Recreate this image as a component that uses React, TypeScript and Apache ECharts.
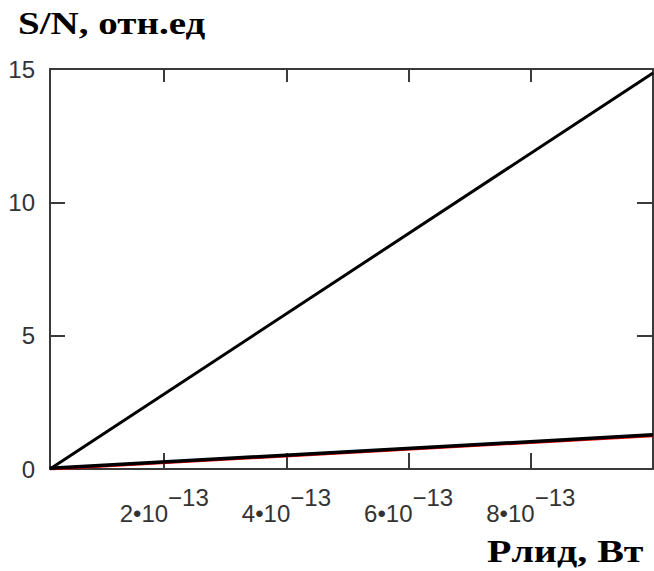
import React, { useEffect, useRef } from "react";
import * as echarts from "echarts";

const xRange = [1.3e-14, 1e-12];
const xValues = [1.3e-14, 1e-12];
const upperLine = [0, 14.85];
const lowerLine = [0.03, 1.28];
const redLine = [0, 1.25];
const xTickValues = [2e-13, 4e-13, 6e-13, 8e-13];
const xTickLabels = ["2•10", "4•10", "6•10", "8•10"];
const xTickExponent = "−13";
const yTicks = [0, 5, 10, 15];
const yTitle = "S/N, отн.ед";
const xTitle = "Рлид, Вт";

export default function App() {
  const ref = useRef<HTMLDivElement>(null);
  useEffect(() => {
    if (!ref.current) return;
    const chart = echarts.init(ref.current, null, { renderer: "svg" });
    const axisColor = "#3a3a3a";
    const labelFont = "'Liberation Sans', Arial, sans-serif";
    const titleFont = "'Liberation Serif', 'Times New Roman', serif";
    const mk = (arr: number[]) => xValues.map((x, i) => [x, arr[i]]);
    chart.setOption({
      animation: false,
      backgroundColor: "#ffffff",
      grid: { left: 50, right: 1, top: 69, bottom: 102, containLabel: false },
      xAxis: [
        {
          type: "value",
          min: xRange[0],
          max: xRange[1],
          position: "bottom",
          splitLine: { show: false },
          axisLine: { show: true, onZero: false, lineStyle: { color: axisColor, width: 2 } },
          axisTick: {
            show: true,
            inside: true,
            length: 16,
            customValues: xTickValues,
            lineStyle: { color: axisColor, width: 2 },
          },
          axisLabel: {
            show: true,
            customValues: xTickValues,
            margin: 16,
            formatter: (v: number) => {
              let idx = 0;
              let best = Infinity;
              xTickValues.forEach((t, i) => {
                const d = Math.abs(t - v);
                if (d < best) { best = d; idx = i; }
              });
              return `{b|${xTickLabels[idx]}}{s|${xTickExponent}}`;
            },
            rich: {
              b: { fontSize: 24, fontFamily: labelFont, color: "#333", verticalAlign: "bottom" },
              s: { fontSize: 24, fontFamily: labelFont, color: "#333", padding: [0, 0, 16, 0] },
            },
          },
        },
        {
          type: "value",
          min: xRange[0],
          max: xRange[1],
          position: "top",
          splitLine: { show: false },
          axisLine: { show: true, onZero: false, lineStyle: { color: axisColor, width: 2 } },
          axisTick: {
            show: true,
            inside: true,
            length: 13,
            customValues: xTickValues,
            lineStyle: { color: axisColor, width: 2 },
          },
          axisLabel: { show: false },
        },
      ],
      yAxis: [
        {
          type: "value",
          min: 0,
          max: 15,
          interval: 5,
          position: "left",
          splitLine: { show: false },
          axisLine: { show: true, onZero: false, lineStyle: { color: axisColor, width: 2 } },
          axisTick: { show: true, inside: true, length: 15, lineStyle: { color: axisColor, width: 2 } },
          axisLabel: {
            show: true,
            margin: 15,
            fontSize: 24,
            fontFamily: labelFont,
            color: "#333",
            formatter: (v: number) => (yTicks.includes(v) ? String(v) : ""),
          },
        },
        {
          type: "value",
          min: 0,
          max: 15,
          interval: 5,
          position: "right",
          splitLine: { show: false },
          axisLine: { show: true, onZero: false, lineStyle: { color: axisColor, width: 2 } },
          axisTick: { show: true, inside: true, length: 16, lineStyle: { color: axisColor, width: 2 } },
          axisLabel: { show: false },
        },
      ],
      series: [
        {
          type: "line",
          xAxisIndex: 0,
          yAxisIndex: 0,
          data: mk(redLine),
          symbol: "none",
          lineStyle: { color: "#ff0000", width: 3 },
        },
        {
          type: "line",
          xAxisIndex: 0,
          yAxisIndex: 0,
          data: mk(lowerLine),
          symbol: "none",
          lineStyle: { color: "#000000", width: 3.5 },
        },
        {
          type: "line",
          xAxisIndex: 0,
          yAxisIndex: 0,
          data: mk(upperLine),
          symbol: "none",
          lineStyle: { color: "#000000", width: 3 },
        },
      ],
      graphic: [
        {
          type: "text",
          x: 18,
          y: 7,
          scaleX: 1.22,
          style: {
            text: yTitle,
            font: `bold 32px ${titleFont}`,
            fill: "#000",
          },
        },
        {
          type: "text",
          x: 487,
          y: 535,
          scaleX: 1.25,
          style: {
            text: xTitle,
            font: `bold 32px ${titleFont}`,
            fill: "#000",
          },
        },
      ],
    });
    return () => chart.dispose();
  }, []);
  return (
    <div
      ref={ref}
      style={{ position: "absolute", left: 0, top: 0, width: 654, height: 571 }}
    />
  );
}
